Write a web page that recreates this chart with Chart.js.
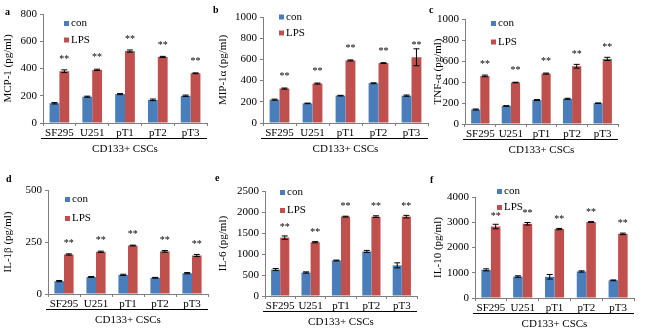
<!DOCTYPE html>
<html>
<head>
<meta charset="utf-8">
<script src="https://cdn.jsdelivr.net/npm/chart.js@4/dist/chart.umd.min.js"></script>
<style>
  html, body { margin: 0; padding: 0; background: #fff; }
  #wrap { position: relative; width: 650px; height: 334px; overflow: hidden; }
  .panel { position: absolute; }
  .letter { position: absolute; font: bold 10px 'Liberation Serif', serif; color: #000; }
</style>
</head>
<body>
<div id="wrap"></div>
<script>
// ---------------------------
// Data
// ---------------------------
const cellLines = ["SF295", "U251", "pT1", "pT2", "pT3"];
const groupTitle = "CD133+ CSCs";
const seriesNames = ["con", "LPS"];

// a: MCP-1
const mcpCon = [145, 193, 212, 170, 200];
const mcpConErr = [5, 4, 4, 6, 5];
const mcpLps = [380, 390, 528, 485, 365];
const mcpLpsErr = [10, 5, 8, 4, 3];
// b: MIP-1a
const mipCon = [220, 185, 258, 375, 258];
const mipConErr = [5, 3, 3, 4, 6];
const mipLps = [325, 372, 590, 565, 620];
const mipLpsErr = [5, 5, 5, 4, 80];
// c: TNF-a
const tnfCon = [138, 172, 228, 240, 198];
const tnfConErr = [5, 3, 5, 5, 3];
const tnfLps = [458, 395, 480, 550, 620];
const tnfLpsErr = [8, 3, 5, 18, 15];
// d: IL-1b
const il1Con = [62, 82, 92, 78, 100];
const il1ConErr = [3, 2, 3, 2, 3];
const il1Lps = [190, 203, 233, 205, 185];
const il1LpsErr = [3, 3, 2, 4, 5];
// e: IL-6
const il6Con = [630, 560, 845, 1060, 730];
const il6ConErr = [25, 15, 10, 25, 60];
const il6Lps = [1390, 1280, 1890, 1890, 1890];
const il6LpsErr = [40, 15, 10, 20, 30];
// f: IL-10
const il10Con = [1115, 850, 840, 1050, 700];
const il10ConErr = [40, 30, 90, 25, 15];
const il10Lps = [2830, 2940, 2730, 3010, 2540];
const il10LpsErr = [90, 50, 25, 15, 30];

const sigMark = "**";

const conColor = "#4a7ebb";
const lpsColor = "#c0504d";
const axisColor = "#7f7f7f";

Chart.defaults.font.family = "'Liberation Serif', 'Times New Roman', serif";
Chart.defaults.font.size = 11;
Chart.defaults.color = "#000";
Chart.defaults.animation = false;

// panel layout: box = canvas [x, y, w, h], plot = [left, top, right, bottom]
const panels = [
  { letter: "a", lx: 5, ly: 6, box: [0, 0, 215, 167], plot: [43, 14, 207, 123], title: "MCP-1 (pg/ml)",
    max: 800, step: 200, con: mcpCon, conErr: mcpConErr, lps: mcpLps, lpsErr: mcpLpsErr, leg: [21, 9.5, 16.5], star: 12 },
  { letter: "b", lx: 213, ly: 4, box: [215, 0, 215, 167], plot: [263, 17, 428, 123], title: "MIP-1\u03b1 (pg/ml)",
    max: 1000, step: 200, con: mipCon, conErr: mipConErr, lps: mipLps, lpsErr: mipLpsErr, leg: [16, 0, 16], star: 12 },
  { letter: "c", lx: 429, ly: 4, box: [430, 0, 220, 167], plot: [465, 19, 618, 124], title: "TNF-\u03b1 (pg/ml)",
    max: 1000, step: 200, con: tnfCon, conErr: tnfConErr, lps: tnfLps, lpsErr: tnfLpsErr, leg: [26, 4.5, 18.5], star: 12 },
  { letter: "d", lx: 6, ly: 173, box: [0, 167, 215, 167], plot: [48, 190, 208, 294], title: "IL-1\u03b2 (pg/ml)",
    max: 500, step: 250, con: il1Con, conErr: il1ConErr, lps: il1Lps, lpsErr: il1LpsErr, leg: [17, 9.5, 19], star: 11 },
  { letter: "e", lx: 215, ly: 172, box: [215, 167, 215, 167], plot: [265, 191, 417, 296], title: "IL-6 (pg/ml)",
    max: 2500, step: 500, con: il6Con, conErr: il6ConErr, lps: il6Lps, lpsErr: il6LpsErr, leg: [15, 1.5, 18], star: 10 },
  { letter: "f", lx: 430, ly: 174, box: [430, 167, 220, 167], plot: [475, 197, 634, 298], title: "IL-10 (pg/ml)",
    max: 4000, step: 1000, con: il10Con, conErr: il10ConErr, lps: il10Lps, lpsErr: il10LpsErr, leg: [22, -5.5, 16], star: 10 }
];

// -------------------------------
// plugin: error bars, stars, legend, underline
// -------------------------------
const extrasPlugin = {
  id: "extras",
  afterDatasetsDraw(chart) {
    const ctx = chart.ctx;
    const p = chart.options.plugins.extras;
    const area = chart.chartArea;
    const yScale = chart.scales.y;
    ctx.save();
    // error bars
    chart.data.datasets.forEach(function (ds, di) {
      const meta = chart.getDatasetMeta(di);
      meta.data.forEach(function (bar, i) {
        const v = ds.data[i];
        const e = ds.errors[i];
        const yTop = yScale.getPixelForValue(v + e);
        const yBot = yScale.getPixelForValue(v - e);
        ctx.strokeStyle = "#000";
        ctx.lineWidth = 1;
        ctx.beginPath();
        ctx.moveTo(bar.x, yTop);
        ctx.lineTo(bar.x, yBot);
        ctx.moveTo(bar.x - 3, yTop);
        ctx.lineTo(bar.x + 3, yTop);
        ctx.moveTo(bar.x - 3, yBot);
        ctx.lineTo(bar.x + 3, yBot);
        ctx.stroke();
      });
    });
    // significance stars over LPS bars
    const lpsMeta = chart.getDatasetMeta(1);
    ctx.fillStyle = "#000";
    ctx.font = "10px 'Liberation Serif', serif";
    ctx.textAlign = "center";
    ctx.textBaseline = "middle";
    lpsMeta.data.forEach(function (bar) {
      ctx.fillText(sigMark, bar.x, bar.y - p.star);
    });
    // legend inside plot area
    ctx.textAlign = "left";
    ctx.font = "11px 'Liberation Serif', serif";
    chart.data.datasets.forEach(function (ds, di) {
      const cy = area.top + p.leg[1] + di * p.leg[2];
      const lx = area.left + p.leg[0];
      ctx.fillStyle = ds.backgroundColor;
      ctx.fillRect(lx, cy - 2.5, 5, 5);
      ctx.fillStyle = "#000";
      ctx.fillText(ds.label, lx + 7, cy);
    });
    // line under the cell-line labels
    ctx.strokeStyle = "#000";
    ctx.beginPath();
    ctx.moveTo(area.left - 2, area.bottom + 15.5);
    ctx.lineTo(area.right, area.bottom + 15.5);
    ctx.stroke();
    ctx.restore();
  }
};

function makePanel(cfg) {
  const wrap = document.getElementById("wrap");
  const holder = document.createElement("div");
  holder.className = "panel";
  holder.style.left = cfg.box[0] + "px";
  holder.style.top = cfg.box[1] + "px";
  holder.style.width = cfg.box[2] + "px";
  holder.style.height = cfg.box[3] + "px";
  const canvas = document.createElement("canvas");
  holder.appendChild(canvas);
  wrap.appendChild(holder);

  const letter = document.createElement("div");
  letter.className = "letter";
  letter.style.left = cfg.lx + "px";
  letter.style.top = cfg.ly + "px";
  letter.textContent = cfg.letter;
  wrap.appendChild(letter);

  const padLeft = 2;
  const yW = cfg.plot[0] - cfg.box[0] - padLeft;
  const xH = 34;

  new Chart(canvas, {
    type: "bar",
    data: {
      labels: cellLines,
      datasets: [
        { label: seriesNames[0], data: cfg.con, errors: cfg.conErr, backgroundColor: conColor },
        { label: seriesNames[1], data: cfg.lps, errors: cfg.lpsErr, backgroundColor: lpsColor }
      ]
    },
    options: {
      responsive: true,
      maintainAspectRatio: false,
      layout: {
        padding: {
          left: padLeft,
          top: cfg.plot[1] - cfg.box[1],
          right: cfg.box[0] + cfg.box[2] - cfg.plot[2],
          bottom: cfg.box[1] + cfg.box[3] - cfg.plot[3] - xH
        }
      },
      datasets: { bar: { barPercentage: 1, categoryPercentage: 0.6 } },
      plugins: {
        legend: { display: false },
        tooltip: { enabled: false },
        extras: { star: cfg.star, leg: cfg.leg }
      },
      scales: {
        x: {
          border: { display: true, color: axisColor },
          grid: { display: true, drawOnChartArea: false, tickLength: 3, color: axisColor },
          ticks: { padding: 1, maxRotation: 0, autoSkip: false },
          title: { display: true, text: groupTitle, padding: { top: 0, bottom: 1 } },
          afterFit: function (s) { s.height = xH; }
        },
        y: {
          min: 0,
          max: cfg.max,
          border: { display: true, color: axisColor },
          grid: { display: true, drawOnChartArea: false, tickLength: 3, color: axisColor },
          ticks: { stepSize: cfg.step, padding: 3, callback: function (v) { return String(v); } },
          title: { display: true, text: cfg.title, padding: { top: 0, bottom: 2 } },
          afterFit: function (s) { s.width = yW; }
        }
      }
    },
    plugins: [extrasPlugin]
  });
}

panels.forEach(makePanel);
</script>
</body>
</html>
